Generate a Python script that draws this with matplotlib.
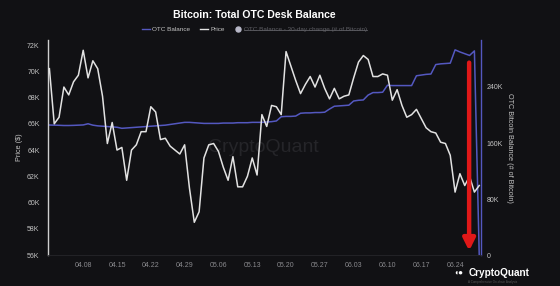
"""Bitcoin: Total OTC Desk Balance (CryptoQuant style)"""

import numpy as np
import pandas as pd
import matplotlib
matplotlib.use("Agg")
import matplotlib.pyplot as plt
from matplotlib.lines import Line2D

plt.rcParams["font.family"] = ["Liberation Sans", "DejaVu Sans"]

# daily values, 2024-04-01 .. 2024-06-29
dates = pd.date_range("2024-04-01", periods=90, freq="D")
price_k = [
    70.2, 66.0, 66.5, 68.8, 68.2, 69.2, 69.7, 71.6, 69.5, 70.8,
    70.2, 68.1, 64.5, 66.1, 64.0, 64.2, 61.7, 64.0, 64.4, 65.4,
    65.4, 67.3, 66.9, 64.8, 64.9, 64.3, 64.0, 63.7, 64.4, 61.1,
    58.5, 59.3, 63.4, 64.4, 64.5, 63.9, 62.7, 61.7, 63.5, 61.2,
    61.2, 62.0, 63.4, 62.1, 66.7, 65.8, 67.4, 67.3, 66.7, 71.5,
    70.4, 69.3, 68.3, 69.0, 69.6, 68.8, 69.7, 68.7, 67.9, 68.7,
    67.9, 68.1, 68.2, 69.5, 70.7, 71.2, 70.9, 69.6, 69.6, 69.8,
    69.7, 67.8, 68.6, 67.4, 66.5, 66.7, 67.1, 66.4, 65.7, 65.4,
    65.3, 64.6, 64.5, 63.6, 60.8, 62.2, 61.3, 62.0, 60.8, 61.3,
]
balance_k = [
    185.7, 185.5, 185.3, 185.0, 185.0, 185.2, 185.5, 185.8, 187.5, 185.5,
    184.5, 184.0, 183.5, 183.0, 182.5, 181.0, 181.5, 182.0, 182.5, 183.0,
    183.5, 184.0, 184.5, 185.0, 185.5, 186.5, 187.5, 188.5, 189.5, 189.5,
    189.0, 188.5, 188.0, 188.0, 188.0, 188.0, 188.5, 188.5, 188.5, 189.0,
    189.0, 189.0, 189.5, 189.5, 189.5, 190.0, 190.5, 191.5, 197.5, 198.0,
    198.0, 198.5, 202.5, 203.0, 203.0, 203.5, 203.5, 204.0, 208.5, 212.5,
    213.0, 213.5, 214.0, 220.0, 221.0, 221.5, 228.5, 232.0, 232.0, 232.5,
    242.5, 242.0, 242.0, 242.0, 242.0, 242.0, 256.0, 257.0, 258.0, 258.5,
    272.0, 273.0, 273.5, 274.0, 293.0, 290.0, 287.5, 285.0, 291.5, 0.0,
]
price_ticks = [56, 58, 60, 62, 64, 66, 68, 70, 72]
balance_ticks = [0, 80, 160, 240]

BG = "#111114"
BLUE = "#5458c0"
WHITE = "#e2e2e2"
GREY = "#8a8a8e"
LABEL = "#c4c4c4"

price = np.array(price_k) * 1000
balance = np.array(balance_k) * 1000

fig = plt.figure(figsize=(5.6, 2.86), dpi=100, facecolor=BG)
ax = fig.add_axes([0.0857, 0.108, 0.7733, 0.752])
ax2 = ax.twinx()

ax2.plot(dates, balance, color=BLUE, lw=1.1, zorder=2)
ax.plot(dates, price, color=WHITE, lw=1.1, zorder=3)
ax.set_zorder(ax2.get_zorder() + 1)
ax.patch.set_visible(False)
ax2.patch.set_facecolor(BG)

ax.set_xlim(dates[0] - pd.Timedelta(hours=7), dates[-1] + pd.Timedelta(hours=9))
ax.set_ylim(56000, 72380)
ax2.set_ylim(0, 307000)

ax.set_yticks([v * 1000 for v in price_ticks])
ax.set_yticklabels([f"{v}K" for v in price_ticks])
ax2.set_yticks([v * 1000 for v in balance_ticks])
ax2.set_yticklabels(["0" if v == 0 else f"{v}K" for v in balance_ticks])

ticks = pd.date_range("2024-04-08", "2024-06-24", freq="7D")
ax.set_xticks(ticks)
ax.set_xticklabels([d.strftime("%m.%d") for d in ticks])

for a in (ax, ax2):
    a.tick_params(length=0, labelsize=5, colors=GREY, pad=5)
    for s in a.spines.values():
        s.set_visible(False)
ax2.tick_params(axis="y", labelcolor=LABEL, pad=4)
ax.tick_params(axis="y", labelcolor=LABEL, pad=6)

ax.spines["left"].set_visible(True)
ax.spines["left"].set_color("#cfcfcf")
ax.spines["left"].set_linewidth(1.0)
ax2.spines["right"].set_visible(True)
ax2.spines["right"].set_color(BLUE)
ax2.spines["right"].set_linewidth(1.0)
ax.spines["bottom"].set_visible(True)
ax.spines["bottom"].set_color("#26262a")
ax.spines["bottom"].set_linewidth(0.6)

ax.set_ylabel("Price ($)", color=LABEL, fontsize=5.2, labelpad=3)
ax2.set_ylabel("OTC Bitcoin Balance (# of Bitcoin)", color=LABEL, fontsize=5.2,
               rotation=-90, labelpad=7)

fig.text(0.455, 0.947, "Bitcoin: Total OTC Desk Balance", color="white",
         fontsize=7.6, fontweight="bold", ha="center", va="center")

handles = [
    Line2D([], [], color=BLUE, lw=1),
    Line2D([], [], color=WHITE, lw=1),
    Line2D([], [], marker="o", ls="", color="#b8b8c8", markersize=3.6),
]
leg = fig.legend(handles, ["OTC Balance", "Price", "OTC Balance - 30-day change (# of Bitcoin)"],
                 loc="center", bbox_to_anchor=(0.455, 0.897), ncol=3, frameon=False,
                 fontsize=4.6, handlelength=1.2, handletextpad=0.4, columnspacing=1.5,
                 labelcolor=[LABEL, LABEL, "#5e5e64"])
# struck-through third entry
fig.canvas.draw()
t = leg.get_texts()[2]
bb = t.get_window_extent().transformed(fig.transFigure.inverted())
fig.add_artist(Line2D([bb.x0, bb.x1], [(bb.y0 + bb.y1) / 2] * 2,
                      transform=fig.transFigure, color="#5e5e64", lw=0.6))

# watermark
ax.text(0.497, 0.5, "CryptoQuant", transform=ax.transAxes, color="#252529",
        fontsize=14, ha="center", va="center", zorder=0)

# red arrow
ax.annotate("", xy=(0.9725, 0.02), xytext=(0.9725, 0.895), xycoords="axes fraction",
            arrowprops=dict(arrowstyle="-|>,head_width=0.35,head_length=0.7",
                            color="#e01818", lw=3.2, shrinkA=0, shrinkB=0), zorder=5)

# logo
fig.text(0.836, 0.047, "CryptoQuant", color="white", fontsize=7.2, ha="left",
         va="center", fontweight="bold")
fig.text(0.818, 0.047, "\u25d6\u25cf", color="white", fontsize=6, ha="center", va="center")
fig.text(0.88, 0.014, "A Comprehensive On-chain Analysis", color="#555",
         fontsize=2.2, ha="center", va="center")

fig.savefig("out.png", dpi=100, facecolor=BG)
